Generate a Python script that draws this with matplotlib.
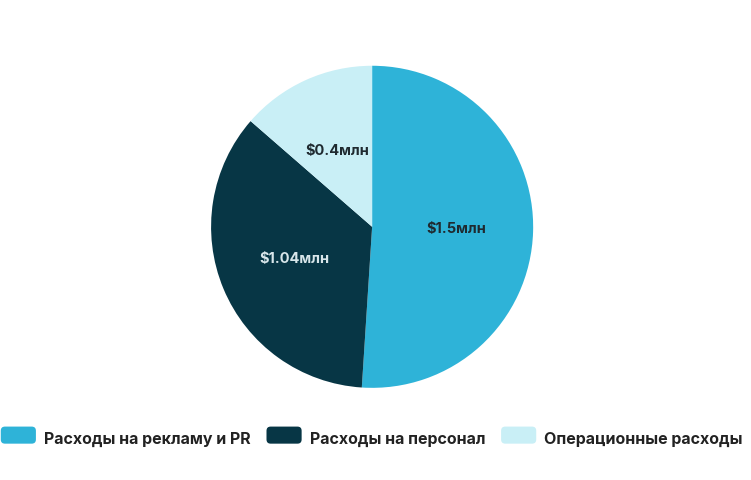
import matplotlib
matplotlib.use("Agg")
import matplotlib.pyplot as plt
from matplotlib.patches import FancyBboxPatch, Patch
from matplotlib.legend_handler import HandlerPatch
import numpy as np

categories = ["Расходы на рекламу и PR", "Расходы на персонал", "Операционные расходы"]
values = [1.5, 1.04, 0.4]
labels = ["$1.5млн", "$1.04млн", "$0.4млн"]
colors = ["#2EB3D8", "#073645", "#C9EFF6"]
text_colors = ["#1f2a30", "#d8e6ea", "#1f2a30"]

plt.rcParams['font.family'] = ['Inter', 'DejaVu Sans']
fig = plt.figure(figsize=(7.51, 4.8), dpi=100)
ax = fig.add_axes([0.281, 0.192, 0.429, 0.671])
ax.pie(values, colors=colors, startangle=90, counterclock=False,
       wedgeprops=dict(linewidth=0))
total = sum(values)
start = 90.0
for v, lab, tc in zip(values, labels, text_colors):
    frac = v / total
    mid = np.deg2rad(start - frac * 360 / 2)
    start -= frac * 360
    d = 0.52
    ax.text(d * np.cos(mid), d * np.sin(mid), lab, ha='center', va='center',
            fontsize=10.5, fontweight='bold', color=tc)
ax.set_xlim(-1, 1)
ax.set_ylim(-1, 1)
ax.set_aspect('equal')

class RoundHandler(HandlerPatch):
    def create_artists(self, legend, orig, xd, yd, w, h, fs, trans):
        p = FancyBboxPatch((xd, yd - 1), w, h + 2, boxstyle="round,pad=0,rounding_size=3",
                           facecolor=orig.get_facecolor(), edgecolor='none', transform=trans)
        return [p]

handles = [Patch(facecolor=c) for c in colors]
fig.legend(handles, categories, loc='center', bbox_to_anchor=(0.495, 0.085), ncol=3,
           frameon=False, prop=dict(weight='bold', size=11.5), handlelength=2.2,
           handleheight=1.0, columnspacing=1.0, handletextpad=0.5,
           handler_map={Patch: RoundHandler()}, labelcolor='#222222')
fig.savefig("out.png", dpi=100, facecolor='white')
